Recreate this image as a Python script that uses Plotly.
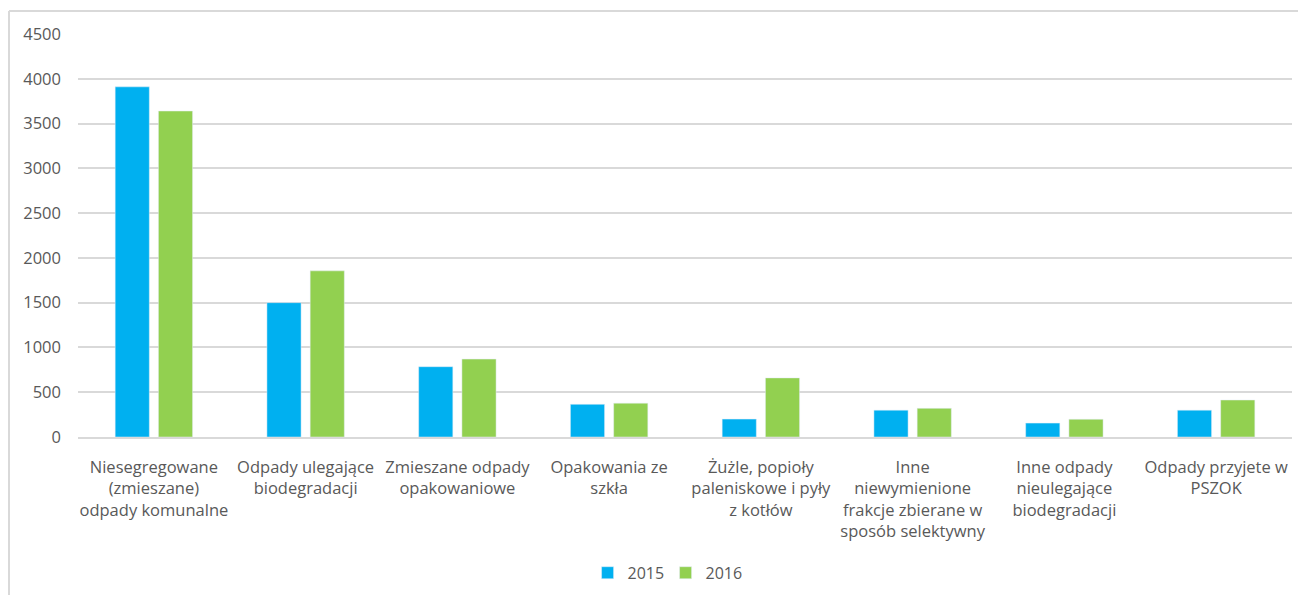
import plotly.graph_objects as go

categories = [
    "Niesegregowane<br>(zmieszane)<br>odpady komunalne",
    "Odpady ulegające<br>biodegradacji",
    "Zmieszane odpady<br>opakowaniowe",
    "Opakowania ze<br>szkła",
    "Żużle, popioły<br>paleniskowe i pyły<br>z kotłów",
    "Inne<br>niewymienione<br>frakcje zbierane w<br>sposób selektywny",
    "Inne odpady<br>nieulegające<br>biodegradacji",
    "Odpady przyjete w<br>PSZOK",
]
values_2015 = [3910, 1500, 785, 365, 200, 300, 155, 300]
values_2016 = [3640, 1855, 870, 378, 660, 320, 198, 413]

blue = "#00b0f0"
green = "#92d050"
grey = "#595959"
grid = "#d9d9d9"

fig = go.Figure()
fig.add_bar(x=categories, y=values_2015, name="2015", marker_color=blue)
fig.add_bar(x=categories, y=values_2016, name="2016", marker_color=green)

# page has an 8px body margin, so the figure is a bit smaller than the window
W, H = 1298, 587
L, R, T, B = 70, 14, 26, 158
pw, ph = W - L - R, H - T - B

fig.update_layout(
    width=W, height=H,
    margin=dict(l=L, r=R, t=T, b=B, autoexpand=False),
    paper_bgcolor="white", plot_bgcolor="white",
    font=dict(family="Open Sans, Liberation Sans, sans-serif", size=16, color=grey),
    barmode="group", bargap=0.43, bargroupgap=0.21,
    showlegend=True,
    legend=dict(orientation="h", x=0.484, xanchor="center", y=-0.337, yanchor="middle",
                font=dict(size=16, color=grey), itemwidth=30, tracegroupgap=0,
                entrywidth=33, entrywidthmode="pixels"),
    shapes=[
        dict(type="line", xref="paper", yref="paper",
             x0=(1 - L) / pw, x1=(W - L) / pw, y0=(H - 3 - B) / ph, y1=(H - 3 - B) / ph,
             line=dict(color=grid, width=2)),
        dict(type="line", xref="paper", yref="paper",
             x0=(1 - L) / pw, x1=(1 - L) / pw, y0=(H - 3 - B) / ph, y1=-B / ph,
             line=dict(color=grid, width=2)),
    ],
)
fig.update_xaxes(showgrid=False, showline=True, linecolor=grid, linewidth=2, automargin=False,
                 ticks="", tickfont=dict(size=16.5, color=grey), tickangle=0,
                 ticklabelstandoff=14)
fig.update_yaxes(range=[0, 4500], dtick=500, showgrid=True, gridcolor=grid, gridwidth=2,
                 zeroline=False, showline=False, ticks="", automargin=False,
                 ticklabelstandoff=16, tickfont=dict(size=16.5, color=grey))

fig.write_html("out.html")
